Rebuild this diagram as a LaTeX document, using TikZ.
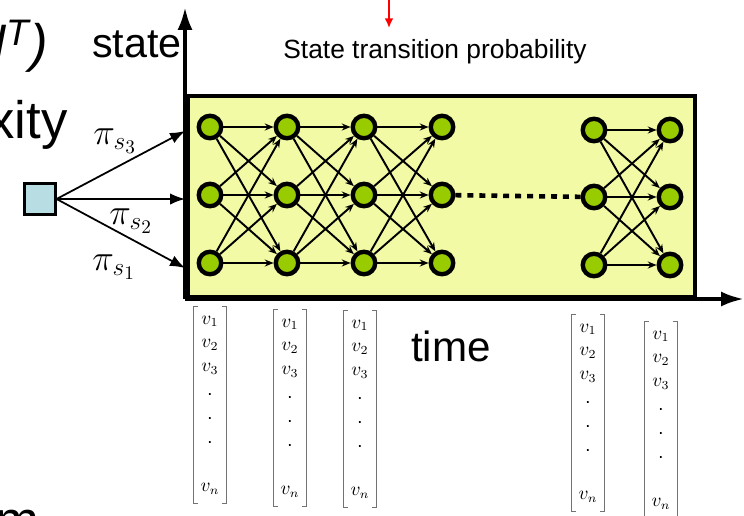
\documentclass[tikz,border=0pt]{standalone}
\usepackage{fontspec}
\setmainfont{Liberation Sans}
\usetikzlibrary{arrows.meta}

\definecolor{boxyellow}{RGB}{243,250,165}
\definecolor{hmmgreen}{RGB}{153,204,0}
\definecolor{srcblue}{RGB}{184,222,228}

\tikzset{
    hstate/.style={circle, draw, fill=hmmgreen, line width=2.5pt, minimum size=0.45cm, inner sep=0pt},
    trans/.style={-{Stealth[length=5pt,width=4pt]}, line width=1.1pt},
    init/.style={-{Latex[length=8.5pt,width=6.5pt]}, line width=1pt},
    axis/.style={line width=2.2pt, -{Latex[length=13pt,width=8.5pt]}},
    vecbox/.style={minimum width=0.66cm, minimum height=3.94cm, inner sep=0pt, align=center, font=\fontsize{10.5}{13.6}\selectfont},
    bracket/.style={draw=black!55, line width=0.6pt},
    pilabel/.style={inner sep=0pt, font=\fontsize{21}{24}\selectfont},
}

\begin{document}
\begin{tikzpicture}[x=0.02cm, y=-0.02cm]
\clip (0,0) rectangle (744,515);

% trellis box and the two axes
\draw[line width=2.3pt, fill=boxyellow] (188,96) rectangle (695,297);
\coordinate (origin) at (185,299);
\coordinate (stateend) at (185,7);
\coordinate (timeend) at (744,299);
\draw[axis] (origin) -- (stateend);
\draw[axis] (origin) -- (timeend);

% hidden states
\foreach \c/\x in {1/210,2/287,3/364,4/442}
    \foreach \r/\y in {1/127,2/195,3/263}
        \node[hstate] (n\c\r) at (\x,\y) {};
\foreach \c/\x in {5/594,6/670}
    \foreach \r/\y in {1/130,2/197,3/265}
        \node[hstate] (n\c\r) at (\x,\y) {};

\foreach \c/\d in {1/2,2/3,3/4,5/6}
    \foreach \r in {1,2,3}
        \foreach \s in {1,2,3}
            \draw[trans] (n\c\r) -- (n\d\s);
\draw[line width=2.6pt, dash pattern=on 3.4pt off 3.4pt] (n42) -- (n52);

% initial distribution
\node[draw, fill=srcblue, line width=1.2pt, minimum size=0.62cm, inner sep=0pt] (src) at (40,199) {};
\coordinate (in3) at (185,131);
\coordinate (in2) at (185,199);
\coordinate (in1) at (185,268);
\draw[init] (src.east) -- (in3);
\draw[init] (src.east) -- (in2);
\draw[init] (src.east) -- (in1);
\node[pilabel] (pi3) at (115,141) {$\pi_{s_3}$};
\node[pilabel] (pi2) at (131,221) {$\pi_{s_2}$};
\node[pilabel] (pi1) at (114,267) {$\pi_{s_1}$};

% labels
\node[anchor=base, inner sep=0pt, font=\fontsize{23.5}{28}\selectfont] (statelbl) at (137,57) {state};
\node[anchor=base, inner sep=0pt, font=\fontsize{24}{28}\selectfont] (timelbl) at (451,361) {time};
\node[anchor=base, inner sep=0pt, font=\fontsize{15}{18}\selectfont] (stp) at (435,58) {State transition probability};
\coordinate (redtop) at (389,-5);
\coordinate (redtip) at (389,28);
\draw[red, line width=1pt, -{Latex[length=5.5pt,width=5pt]}] (redtop) -- (redtip);

\node[anchor=base east, inner sep=0pt, font=\fontsize{30}{34}\selectfont\itshape] (cost) at (48,61) {N\textsuperscript{T})};
\node[anchor=base east, inner sep=0pt, font=\fontsize{30}{34}\selectfont] (cplx) at (68,138) {xity};
\node[anchor=base east, inner sep=0pt, font=\fontsize{30}{34}\selectfont] (alg) at (40,538) {m};

% observation vectors
\node[vecbox] (vec1) at (210,405) {$v_1$\\$v_2$\\$v_3$\\.\\.\\.\\[13.6pt]$v_n$};
\node[vecbox] (vec2) at (290,408) {$v_1$\\$v_2$\\$v_3$\\.\\.\\.\\[13.6pt]$v_n$};
\node[vecbox] (vec3) at (360,409) {$v_1$\\$v_2$\\$v_3$\\.\\.\\.\\[13.6pt]$v_n$};
\node[vecbox] (vec4) at (588,413) {$v_1$\\$v_2$\\$v_3$\\.\\.\\.\\[13.6pt]$v_n$};
\node[vecbox] (vec5) at (661,420) {$v_1$\\$v_2$\\$v_3$\\.\\.\\.\\[13.6pt]$v_n$};
\foreach \v in {1,...,5} {
    \draw[bracket] (vec\v.north west) +(5,0) -- (vec\v.north west) -- (vec\v.south west) -- +(5,0);
    \draw[bracket] (vec\v.north east) +(-5,0) -- (vec\v.north east) -- (vec\v.south east) -- +(-5,0);
}
\end{tikzpicture}
\end{document}
